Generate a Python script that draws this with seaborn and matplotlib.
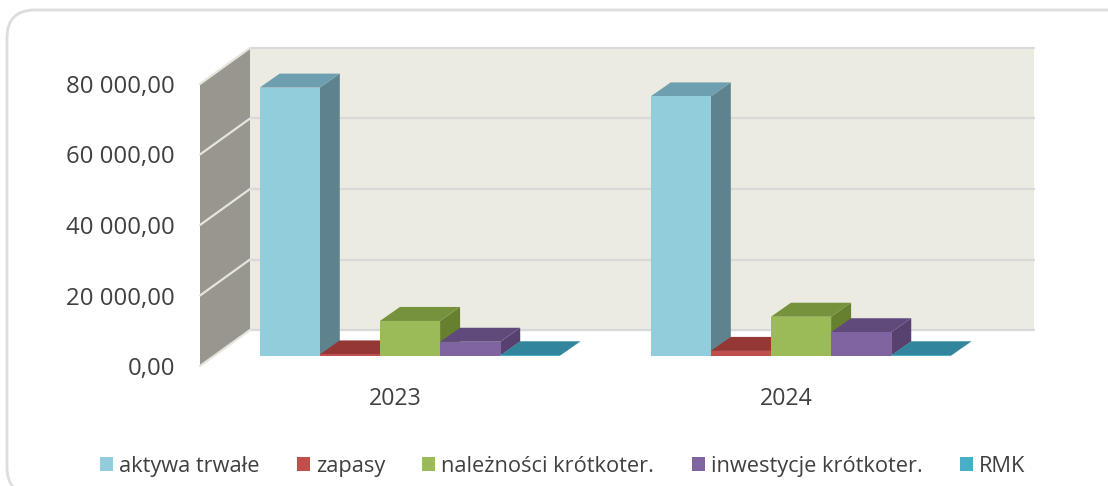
import pandas as pd
import seaborn as sns
import matplotlib.pyplot as plt
from matplotlib.patches import Polygon, Rectangle, FancyBboxPatch
from matplotlib.transforms import Affine2D

years = ['2023', '2024']
categories = ['aktywa trwałe', 'zapasy', 'należności krótkoter.', 'inwestycje krótkoter.', 'RMK']
aktywa = [76000, 73500]
zapasy = [300, 1300]
naleznosci = [9800, 11000]
inwestycje = [3900, 6600]
rmk = [60, 60]
yticks = [0, 20000, 40000, 60000, 80000]
ytick_labels = ['0,00', '20 000,00', '40 000,00', '60 000,00', '80 000,00']

front = ['#92cddc', '#c0504d', '#9bbb59', '#8064a2', '#4bacc6']
top = ['#6e9fb0', '#953735', '#76923c', '#604a7b', '#31859c']
side = ['#5f838e', '#7a2d2b', '#668030', '#574170', '#2a7286']

W, H = 1108, 486
sns.set_theme(style='white')
plt.rcParams['font.family'] = ['Open Sans', 'DejaVu Sans']

df = pd.DataFrame({
    'rok': years * 5,
    'kategoria': [c for c in categories for _ in years],
    'wartosc': aktywa + zapasy + naleznosci + inwestycje + rmk,
})

fig = plt.figure(figsize=(W / 100, H / 100), dpi=100)
ax = fig.add_axes([200 / W, 120 / H, 784 / W, 282 / H])
ax.patch.set_visible(False)

sns.barplot(data=df, x='rok', y='wartosc', hue='kategoria', order=years, hue_order=categories,
            palette=front, width=0.769, gap=0, saturation=1, errorbar=None, linewidth=0, ax=ax)
ax.set_xlim(-0.5, 1.505)
ax.set_ylim(0, 80000)
ax.set(xlabel='', ylabel='')
ax.set_yticks(yticks, ytick_labels)
ax.tick_params(axis='x', length=0, pad=15.2, labelsize=16.7, labelcolor='#404040')
ax.tick_params(axis='y', length=0, pad=18, labelsize=17.3, labelcolor='#404040')
sns.despine(ax=ax, left=True, bottom=True)


def shifted(dx, dy):
    # pixels, y going up
    return ax.transData + Affine2D().translate(dx, dy)


# back wall, side wall
back = shifted(50, 36)
x0, x1 = ax.get_xlim()
ax.add_patch(Rectangle((x0, 0), x1 - x0, 80000, fc='#ecebe2', ec='none', transform=back, zorder=0.5, clip_on=False))
for v in yticks:
    ax.plot([x0, x1], [v, v], color='#d9d9d9', lw=1.6, transform=back, zorder=0.6, clip_on=False)

px = ax.transData.inverted().transform([(200, 120), (250, 156), (250, 438), (200, 402)])
ax.add_patch(Polygon(px, fc='#98968e', ec='none', zorder=0.7, clip_on=False))
for v in yticks:
    y_disp = ax.transData.transform((x0, v))[1]
    seg = ax.transData.inverted().transform([(200, y_disp), (250, y_disp + 36)])
    ax.plot(seg[:, 0], seg[:, 1], color='#e6e5dc', lw=1.6, zorder=0.8, clip_on=False)

# bars: seaborn front faces moved onto the bar plane, then depth faces from the same rectangles
bar_shift = shifted(14.5, 10.5)
bars = [p for c in ax.containers for p in c]
dx, dy = 20, 14
for i, p in enumerate(bars):
    col = i // len(years)
    order = 2 + p.get_x()
    x, w, h = p.get_x(), p.get_width(), p.get_height()
    p.set_transform(bar_shift)
    p.set_clip_on(False)
    p.set_zorder(order + 0.02)
    low = bar_shift.transform((x, 0))
    high = bar_shift.transform((x + w, h))
    xa, ya, xb, yb = low[0], low[1], high[0], high[1]
    disp = Affine2D()
    ax.add_patch(Polygon([(xa, yb), (xb, yb), (xb + dx, yb + dy), (xa + dx, yb + dy)], closed=True,
                         fc=top[col], ec='none', transform=disp, zorder=order + 0.01, clip_on=False))
    ax.add_patch(Polygon([(xb, ya), (xb, yb), (xb + dx, yb + dy), (xb + dx, ya + dy)], closed=True,
                         fc=side[col], ec='none', transform=disp, zorder=order, clip_on=False))

handles, labels = ax.get_legend_handles_labels()
leg = ax.legend(handles, labels, ncols=5, loc='center', bbox_to_anchor=(562.5 / W, 1 - 466 / H),
                bbox_transform=fig.transFigure, frameon=False, fontsize=15.7, labelcolor='#404040',
                handlelength=0.6, handleheight=0.6, handletextpad=0.28, columnspacing=1.71)

# rounded frame around the chart
fig.add_artist(FancyBboxPatch((35, 19), 1120, 429,
                              boxstyle='round,pad=28,rounding_size=28', fc='none', ec='#dddddd', lw=2,
                              transform=Affine2D(), clip_on=True))

fig.savefig('out.png', dpi=100)
